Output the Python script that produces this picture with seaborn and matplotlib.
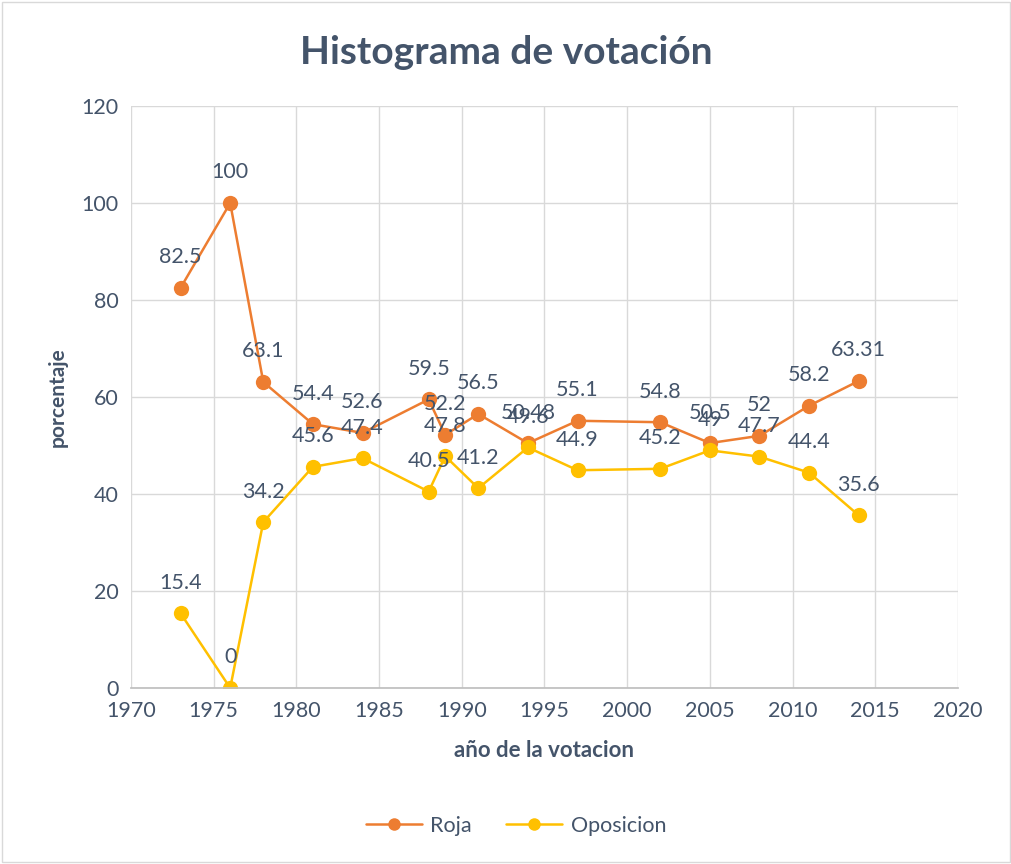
import pandas as pd
import seaborn as sns
import matplotlib.pyplot as plt

years = [1973, 1976, 1978, 1981, 1984, 1988, 1989, 1991, 1994, 1997, 2002, 2005, 2008, 2011, 2014]
roja = [82.5, 100, 63.1, 54.4, 52.6, 59.5, 52.2, 56.5, 50.48, 55.1, 54.8, 50.5, 52, 58.2, 63.31]
oposicion = [15.4, 0, 34.2, 45.6, 47.4, 40.5, 47.8, 41.2, 49.6, 44.9, 45.2, 49, 47.7, 44.4, 35.6]

TEXT = "#44546A"
ORANGE = "#ED7D31"
YELLOW = "#FFC000"


def main() -> None:
    sns.set_theme(style="white")
    plt.rcParams["font.family"] = ["Lato", "DejaVu Sans"]

    df = pd.DataFrame({"year": years, "Roja": roja, "Oposicion": oposicion})
    long_df = df.melt(id_vars="year", var_name="serie", value_name="valor")

    fig = plt.figure(figsize=(10.12, 8.64), dpi=100)
    ax = fig.add_axes([0.1294, 0.2037, 0.8172, 0.6736])

    sns.lineplot(
        data=long_df,
        x="year",
        y="valor",
        hue="serie",
        palette=[ORANGE, YELLOW],
        marker="o",
        markersize=11,
        markeredgewidth=0,
        linewidth=1.8,
        ax=ax,
    )

    for col in ["Roja", "Oposicion"]:
        for x, y in zip(df["year"], df[col]):
            ax.annotate(f"{y:g}", (x, y), xytext=(0, 22), textcoords="offset points",
                        ha="center", va="center", fontsize=15.5, color=TEXT)

    ax.set_xlim(1970, 2020)
    ax.set_ylim(0, 120)
    ax.set_xticks(range(1970, 2021, 5))
    ax.set_yticks(range(0, 121, 20))
    ax.grid(True, color="#D9D9D9", linewidth=1)
    ax.set_axisbelow(True)
    for side in ["top", "right", "left"]:
        ax.spines[side].set_visible(False)
    ax.spines["bottom"].set_color("#BFBFBF")
    ax.tick_params(axis="both", labelsize=15.5, colors=TEXT, length=0, pad=9)

    ax.set_xlabel("año de la votacion", fontsize=16, fontweight="bold", color=TEXT, labelpad=14)
    ax.set_ylabel("porcentaje", fontsize=15, fontweight="bold", color=TEXT, labelpad=10)
    fig.suptitle("Histograma de votación", x=0.5, y=0.96, fontsize=28,
                 fontweight="bold", color=TEXT)

    handles, labels = ax.get_legend_handles_labels()
    for h in handles:
        h.set_markersize(9)
    ax.legend(handles, labels, loc="center", bbox_to_anchor=(0.51, 0.044),
              bbox_transform=fig.transFigure, ncol=2, frameon=False,
              fontsize=15.5, labelcolor=TEXT, handlelength=2.6, handletextpad=0.4,
              columnspacing=1.6)

    fig.patches.append(plt.Rectangle((0.002, 0.002), 0.996, 0.996, transform=fig.transFigure,
                                     fill=False, edgecolor="#D9D9D9", linewidth=1))
    fig.savefig("out.png", dpi=100)
    plt.close(fig)


if __name__ == "__main__":
    main()
